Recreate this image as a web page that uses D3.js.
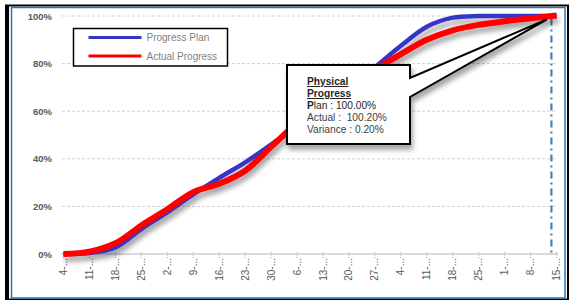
<!DOCTYPE html>
<html>
<head>
<meta charset="utf-8">
<script src="https://cdn.jsdelivr.net/npm/d3@7"></script>
<style>
	html, body { margin: 0; padding: 0; background: #fff; }
	svg { display: block; font-family: Arial, "Liberation Sans", sans-serif; }
</style>
</head>
<body>
<div id="chart"></div>
<script>
// week labels on the x axis (Excel truncates them)
var categories = ['4-...', '11-...', '18-...', '25-...', '2-...', '9-...', '16-...', '23-...', '30-...', '6-...',
	'13-...', '20-...', '27-...', '4-...', '11-...', '18-...', '25-...', '1-...', '8-...', '15-...'];

// cumulative progress, percent
var planValues = [0, 0.4, 2.8, 10.5, 17.5, 25, 32, 38.5, 46, 54, 62, 70, 78.5, 87.5, 95.5, 99.3, 100, 100, 100, 100];
var actualValues = [0, 1, 4.5, 12, 18.8, 26, 29.5, 35, 45, 55, 63, 71, 77.5, 84, 90, 94, 96.3, 97.8, 99, 100.2];

var yTicks = [0, 20, 40, 60, 80, 100];
var seriesNames = ['Progress Plan', 'Actual Progress'];
var seriesColors = ['#3535c8', '#ff0000'];

// status date marker, as a position between categories
var statusIndex = 18.8;

var width = 569,
	height = 300;

var svg = d3.select('#chart')
	.append('svg')
	.attr('width', width)
	.attr('height', height);

var defs = svg.append('defs');
defs.append('filter')
	.attr('id', 'shadow')
	.attr('x', '-10%').attr('y', '-10%')
	.attr('width', '130%').attr('height', '140%')
	.append('feDropShadow')
	.attr('dx', 2)
	.attr('dy', 5)
	.attr('stdDeviation', 2.5)
	.attr('flood-color', '#000')
	.attr('flood-opacity', 0.35);

// frame
svg.append('rect')
	.attr('x', 6).attr('y', 5.5)
	.attr('width', 562).attr('height', 294)
	.attr('fill', 'none')
	.attr('stroke', '#000')
	.attr('stroke-width', 2);
svg.append('line')
	.attr('x1', 7).attr('x2', 7)
	.attr('y1', 5).attr('y2', 300)
	.attr('stroke', '#000')
	.attr('stroke-width', 4);
svg.append('rect')
	.attr('x', 11.5).attr('y', 7.5)
	.attr('width', 553.5).attr('height', 290.5)
	.attr('fill', 'none')
	.attr('stroke', '#2e75b6')
	.attr('stroke-width', 1.5);

var x = d3.scaleLinear()
	.domain([0, categories.length - 1])
	.range([63.5, 556.6]);

var y = d3.scaleLinear()
	.domain([0, 100])
	.range([254, 16]);

// gridlines
svg.append('g')
	.selectAll('line')
	.data(yTicks.slice(1))
	.join('line')
	.attr('x1', 62)
	.attr('x2', 555)
	.attr('y1', function(d) { return y(d); })
	.attr('y2', function(d) { return y(d); })
	.attr('stroke', '#d0d0d0')
	.attr('stroke-width', 1)
	.attr('stroke-dasharray', '3,2');

// y labels
svg.append('g')
	.selectAll('text')
	.data(yTicks)
	.join('text')
	.attr('x', 52)
	.attr('y', function(d) { return y(d) + 3.5; })
	.attr('text-anchor', 'end')
	.attr('font-size', '9.5px')
	.attr('font-weight', 'bold')
	.attr('fill', '#595959')
	.text(function(d) { return d + '%'; });

// x axis
svg.append('line')
	.attr('x1', 61)
	.attr('x2', 558)
	.attr('y1', y(0))
	.attr('y2', y(0))
	.attr('stroke', '#d9d9d9')
	.attr('stroke-width', 2);

svg.append('g')
	.selectAll('line')
	.data(categories)
	.join('line')
	.attr('x1', function(d, i) { return x(i); })
	.attr('x2', function(d, i) { return x(i); })
	.attr('y1', y(0) - 2)
	.attr('y2', y(0) + 5)
	.attr('stroke', '#a6a6a6')
	.attr('stroke-width', 1)
	.attr('stroke-dasharray', '1,1.5');

svg.append('g')
	.selectAll('text')
	.data(categories)
	.join('text')
	.attr('transform', function(d, i) {
		return 'translate(' + (x(i) + 3.5) + ',' + (y(0) + 4) + ') rotate(-90)';
	})
	.attr('text-anchor', 'end')
	.attr('font-size', '10px')
	.attr('fill', '#595959')
	.text(function(d) { return d; });

// status date marker
svg.append('line')
	.attr('x1', x(statusIndex))
	.attr('x2', x(statusIndex))
	.attr('y1', y(99))
	.attr('y2', y(0))
	.attr('stroke', '#4a7ebb')
	.attr('stroke-width', 2.2)
	.attr('stroke-dasharray', '7,4,2,4');

// series
var line = d3.line()
	.x(function(d, i) { return x(i); })
	.y(function(d) { return y(d); })
	.curve(d3.curveCatmullRom.alpha(0.5));

var series = svg.append('g').attr('filter', 'url(#shadow)');
series.append('path')
	.datum(planValues)
	.attr('d', line)
	.attr('fill', 'none')
	.attr('stroke', seriesColors[0])
	.attr('stroke-width', 4.5)
	.attr('stroke-linejoin', 'round');
series.append('path')
	.datum(actualValues)
	.attr('d', line)
	.attr('fill', 'none')
	.attr('stroke', seriesColors[1])
	.attr('stroke-width', 6)
	.attr('stroke-linejoin', 'round');

// legend
var legend = svg.append('g').attr('transform', 'translate(73.5,28.5)');
legend.append('rect')
	.attr('width', 154)
	.attr('height', 37.5)
	.attr('fill', '#fff')
	.attr('stroke', '#000')
	.attr('stroke-width', 1.5);
seriesNames.forEach(function(name, i) {
	legend.append('line')
		.attr('x1', 15).attr('x2', 68)
		.attr('y1', 9 + i * 18.5).attr('y2', 9 + i * 18.5)
		.attr('stroke', seriesColors[i])
		.attr('stroke-width', 3);
	legend.append('text')
		.attr('x', 73)
		.attr('y', 12.5 + i * 18.5)
		.attr('font-size', '10px')
		.attr('fill', '#7f7f7f')
		.text(name);
});

// callout with the last values
var last = categories.length - 1;
var planLast = planValues[last],
	actualLast = actualValues[last];
var tipX = x(last) - 10,
	tipY = y(actualLast) + 4;

var callout = svg.append('g');
callout.append('path')
	.attr('d', 'M287,65H410V78L' + tipX + ',' + tipY + 'L410,97V144H287Z')
	.attr('fill', '#fff')
	.attr('stroke', '#000')
	.attr('stroke-width', 2)
	.attr('stroke-linejoin', 'miter')
	.attr('filter', 'url(#shadow)');

var calloutText = callout.append('text')
	.attr('font-size', '10.2px')
	.attr('fill', '#262626');
calloutText.append('tspan')
	.attr('x', 307).attr('y', 85)
	.attr('font-weight', 'bold')
	.attr('text-decoration', 'underline')
	.text('Physical');
calloutText.append('tspan')
	.attr('x', 307).attr('y', 97)
	.attr('font-weight', 'bold')
	.attr('text-decoration', 'underline')
	.text('Progress');
calloutText.append('tspan')
	.attr('x', 307).attr('y', 109)
	.attr('font-weight', 'bold')
	.text('P');
calloutText.append('tspan')
	.text('lan : ' + planLast.toFixed(2) + '%');
calloutText.append('tspan')
	.attr('x', 307).attr('y', 121)
	.attr('fill', '#404040')
	.attr('xml:space', 'preserve')
	.style('white-space', 'pre')
	.text('Actual :  ' + actualLast.toFixed(2) + '%');
calloutText.append('tspan')
	.attr('x', 307).attr('y', 133)
	.attr('fill', '#404040')
	.text('Variance : ' + (actualLast - planLast).toFixed(2) + '%');
</script>
</body>
</html>
